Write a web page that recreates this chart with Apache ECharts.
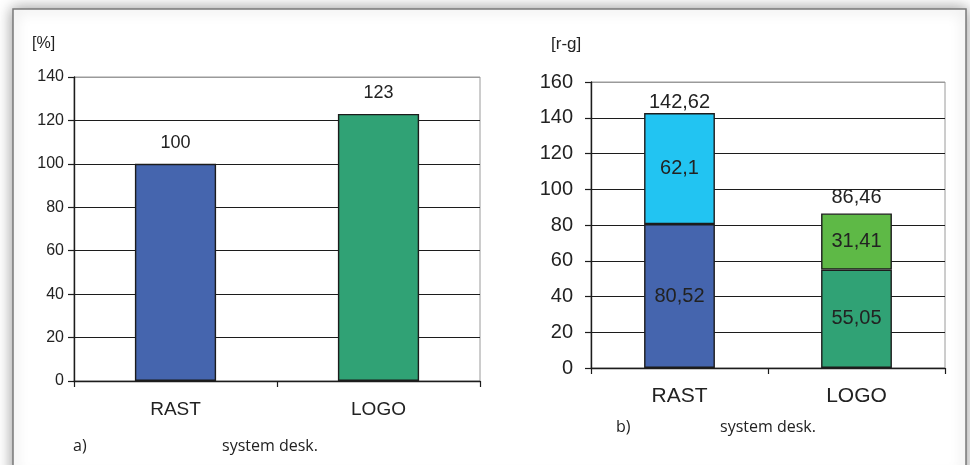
<!DOCTYPE html>
<html>
<head>
<meta charset="utf-8">
<script src="https://cdn.jsdelivr.net/npm/echarts@6/dist/echarts.min.js"></script>
<style>
  html, body { margin: 0; padding: 0; background: #fff; }
  #chart { width: 970px; height: 465px; }
</style>
</head>
<body>
<div id="chart"></div>
<script>
// Categories shared by both panels
const categories = ['RAST', 'LOGO'];

// Panel a): relative value [%]
const percentValues = [100, 123];
const percentColors = ['#4565AE', '#30A275'];

// Panel b): stacked parts [r-g] and their totals
const baseValues = [80.52, 55.05];
const baseColors = ['#4565AE', '#30A275'];
const extraValues = [62.1, 31.41];
const extraColors = ['#22C4F2', '#5EB946'];
const totalValues = [142.62, 86.46];

// Y-axis ranges
const percentAxis = { min: 0, max: 140, interval: 20 };
const rgAxis = { min: 0, max: 160, interval: 20 };

const TXT = '#222';
const LINE = '#1c1c1c';
const FONT = 'Liberation Sans, Arial, sans-serif';
const NOTE_FONT = '16px "Open Sans", sans-serif';
const comma = v => String(v).replace('.', ',');

function splitColors(axis) {
  const n = Math.round((axis.max - axis.min) / axis.interval) + 1;
  const arr = [];
  for (let i = 0; i < n; i++) arr.push(i === n - 1 ? '#9a9a9a' : LINE);
  return arr;
}

function yAxisFor(gridIndex, axis, fontSize, margin) {
  return {
    type: 'value', gridIndex: gridIndex,
    min: axis.min, max: axis.max, interval: axis.interval,
    axisLine: { show: true, lineStyle: { color: LINE, width: 1.4 } },
    axisTick: { show: true, length: 6, lineStyle: { color: LINE, width: 1.2 } },
    axisLabel: { color: TXT, fontSize: fontSize, fontFamily: FONT, margin: margin },
    splitLine: { show: true, lineStyle: { color: splitColors(axis), width: 1.2 } }
  };
}

function xAxisFor(gridIndex, fontSize, margin) {
  return {
    type: 'category', gridIndex: gridIndex, data: categories,
    boundaryGap: true,
    axisLine: { show: true, lineStyle: { color: LINE, width: 1.4 } },
    axisTick: { show: true, length: 6, alignWithLabel: false, lineStyle: { color: LINE, width: 1.2 } },
    axisLabel: { color: TXT, fontSize: fontSize, fontFamily: FONT, margin: margin }
  };
}

const chart = echarts.init(document.getElementById('chart'), null, { renderer: 'canvas' });

chart.setOption({
  animation: false,
  backgroundColor: '#fff',
  graphic: [
    {
      type: 'rect', z: -10, silent: true,
      shape: { x: 13, y: 9, width: 953, height: 470 },
      style: {
        fill: '#fff', stroke: '#7a7a7a', lineWidth: 1.5,
        shadowBlur: 14, shadowColor: 'rgba(0,0,0,0.4)', shadowOffsetX: 0, shadowOffsetY: 0
      }
    },
    { type: 'text', left: 32, top: 36, style: { text: '[%]', fill: TXT, font: '16px ' + FONT } },
    { type: 'text', left: 551, top: 36, style: { text: '[r-g]', fill: TXT, font: '17px ' + FONT } },
    { type: 'text', left: 73, top: 438, style: { text: 'a)', fill: TXT, font: NOTE_FONT } },
    { type: 'text', left: 222, top: 438, style: { text: 'system desk.', fill: TXT, font: NOTE_FONT } },
    { type: 'text', left: 616, top: 419, style: { text: 'b)', fill: TXT, font: NOTE_FONT } },
    { type: 'text', left: 720, top: 419, style: { text: 'system desk.', fill: TXT, font: NOTE_FONT } }
  ],
  grid: [
    { left: 74, top: 77, width: 406, height: 304, show: true, borderColor: '#9a9a9a', borderWidth: 1, backgroundColor: 'transparent' },
    { left: 591, top: 82, width: 354, height: 286, show: true, borderColor: '#9a9a9a', borderWidth: 1, backgroundColor: 'transparent' }
  ],
  xAxis: [xAxisFor(0, 19, 19), xAxisFor(1, 21, 18)],
  yAxis: [yAxisFor(0, percentAxis, 16, 10), yAxisFor(1, rgAxis, 20, 18)],
  series: [
    {
      name: 'percent', type: 'bar', xAxisIndex: 0, yAxisIndex: 0,
      barWidth: '40%',
      data: percentValues.map((v, i) => ({ value: v, itemStyle: { color: percentColors[i] } })),
      itemStyle: { borderColor: LINE, borderWidth: 1.4 },
      label: { show: true, position: 'top', distance: 12, color: TXT, fontSize: 18, fontFamily: FONT }
    },
    {
      name: 'base', type: 'bar', stack: 'rg', xAxisIndex: 1, yAxisIndex: 1,
      barWidth: '40%',
      data: baseValues.map((v, i) => ({ value: v, itemStyle: { color: baseColors[i] } })),
      itemStyle: { borderColor: LINE, borderWidth: 1.4 },
      label: { show: true, position: 'inside', color: TXT, fontSize: 20, fontFamily: FONT,
               formatter: p => comma(p.value) }
    },
    {
      name: 'extra', type: 'bar', stack: 'rg', xAxisIndex: 1, yAxisIndex: 1,
      barWidth: '40%',
      data: extraValues.map((v, i) => ({ value: v, itemStyle: { color: extraColors[i] } })),
      itemStyle: { borderColor: LINE, borderWidth: 1.4 },
      label: { show: true, position: 'inside', color: TXT, fontSize: 20, fontFamily: FONT,
               formatter: p => comma(p.value) }
    },
    {
      // totals: invisible bar carrying the label above each stack
      name: 'total', type: 'bar', xAxisIndex: 1, yAxisIndex: 1,
      barWidth: '40%', barGap: '-100%', z: 1, silent: true,
      data: totalValues.map((v, i) => ({ value: v, label: { distance: i === 0 ? 1 : 6 } })),
      itemStyle: { color: 'transparent', borderWidth: 0 },
      label: { show: true, position: 'top', color: TXT, fontSize: 20, fontFamily: FONT,
               formatter: p => comma(p.value) }
    }
  ]
});
</script>
</body>
</html>
